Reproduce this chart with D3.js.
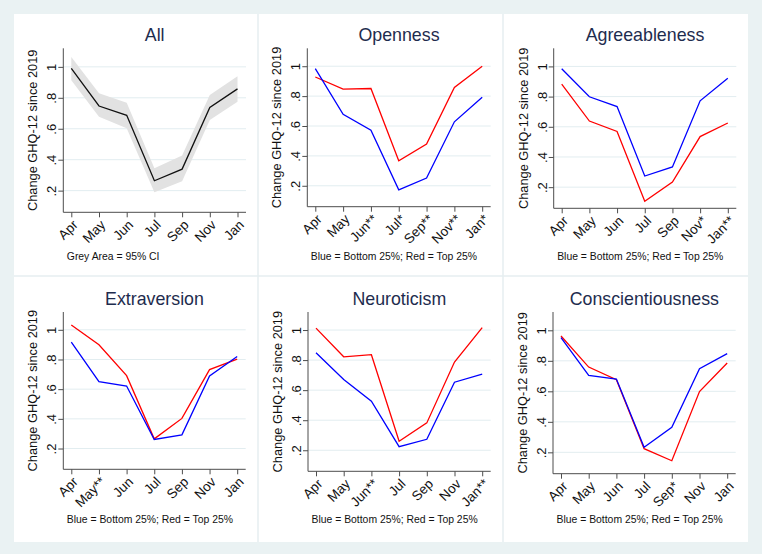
<!DOCTYPE html>
<html lang="en">
<head>
<meta charset="UTF-8">
<title>Change GHQ-12 since 2019 by personality</title>
<script src="https://cdn.jsdelivr.net/npm/d3@7"></script>
<style>
    html, body { margin: 0; padding: 0; background: #eaf2f3; }
    svg { display: block; font-family: "Liberation Sans", Arial, sans-serif; }
</style>
</head>
<body>
<svg id="chart" width="762" height="554"></svg>
<script>
    // waves (x categories)
    const months = ["Apr", "May", "Jun", "Jul", "Sep", "Nov", "Jan"];
    const yTicks = [0.2, 0.4, 0.6, 0.8, 1];

    // All respondents, mean + 95% CI
    const allMean = [0.99, 0.747, 0.687, 0.264, 0.339, 0.738, 0.858];
    const allLow  = [0.914, 0.678, 0.603, 0.19, 0.26, 0.657, 0.775];
    const allHigh = [1.064, 0.83, 0.768, 0.345, 0.427, 0.818, 0.94];

    // bottom 25% (blue) / top 25% (red) of each trait
    const openBlue  = [0.984, 0.678, 0.572, 0.173, 0.252, 0.628, 0.793];
    const openRed   = [0.928, 0.847, 0.851, 0.367, 0.479, 0.858, 1.0];
    const agreeBlue = [0.984, 0.799, 0.734, 0.274, 0.334, 0.772, 0.922];
    const agreeRed  = [0.882, 0.638, 0.569, 0.106, 0.234, 0.535, 0.625];
    const extraBlue = [0.917, 0.651, 0.621, 0.261, 0.292, 0.689, 0.82];
    const extraRed  = [1.032, 0.899, 0.691, 0.265, 0.403, 0.732, 0.802];
    const neuroBlue = [0.849, 0.671, 0.527, 0.224, 0.273, 0.653, 0.707];
    const neuroRed  = [1.013, 0.822, 0.836, 0.26, 0.382, 0.787, 1.016];
    const consBlue  = [0.952, 0.704, 0.68, 0.233, 0.364, 0.748, 0.847];
    const consRed   = [0.963, 0.759, 0.676, 0.224, 0.145, 0.598, 0.786];

    // tick labels (stars = significance)
    const allTicks   = ["Apr", "May", "Jun", "Jul", "Sep", "Nov", "Jan"];
    const openTicks  = ["Apr", "May", "Jun**", "Jul*", "Sep**", "Nov**", "Jan*"];
    const agreeTicks = ["Apr", "May", "Jun", "Jul", "Sep", "Nov*", "Jan**"];
    const extraTicks = ["Apr", "May**", "Jun", "Jul", "Sep", "Nov", "Jan"];
    const neuroTicks = ["Apr", "May", "Jun**", "Jul", "Sep", "Nov", "Jan**"];
    const consTicks  = ["Apr", "May", "Jun", "Jul", "Sep*", "Nov", "Jan"];

    const noteGroups = "Blue = Bottom 25%; Red = Top 25%";

    const panels = [
        { title: "All", ticks: allTicks, note: "Grey Area = 95% CI", mean: allMean, low: allLow, high: allHigh,
          box: { left: 63.3, right: 246, top: 48.3, bottom: 212.3 }, titleY: 41, noteY: 260 },
        { title: "Openness", ticks: openTicks, note: noteGroups, blue: openBlue, red: openRed,
          box: { left: 307.3, right: 490.7, top: 48.3, bottom: 206.7 }, titleY: 41, noteY: 260 },
        { title: "Agreeableness", ticks: agreeTicks, note: noteGroups, blue: agreeBlue, red: agreeRed,
          box: { left: 553.7, right: 736.3, top: 48.3, bottom: 208.3 }, titleY: 41, noteY: 260 },
        { title: "Extraversion", ticks: extraTicks, note: noteGroups, blue: extraBlue, red: extraRed,
          box: { left: 63.3, right: 245.7, top: 312, bottom: 469.3 }, titleY: 305, noteY: 523 },
        { title: "Neuroticism", ticks: neuroTicks, note: noteGroups, blue: neuroBlue, red: neuroRed,
          box: { left: 308, right: 490.7, top: 312, bottom: 471.3 }, titleY: 305, noteY: 523 },
        { title: "Conscientiousness", ticks: consTicks, note: noteGroups, blue: consBlue, red: consRed,
          box: { left: 553, right: 735.7, top: 312, bottom: 473.7 }, titleY: 305, noteY: 523 }
    ];

    const svg = d3.select("#chart");

    // white graph region with thin separators between panels
    svg.append("rect").attr("x", 14).attr("y", 14).attr("width", 734).attr("height", 528).attr("fill", "#fff");
    [258, 503].forEach(x => svg.append("line").attr("x1", x).attr("x2", x).attr("y1", 14).attr("y2", 542)
        .attr("stroke", "#e6eef1").attr("stroke-width", 1.5));
    svg.append("line").attr("x1", 14).attr("x2", 748).attr("y1", 276).attr("y2", 276)
        .attr("stroke", "#e6eef1").attr("stroke-width", 1.5);

    const axisColor = "#4d4d4d";
    const font = "'Liberation Sans', Arial, sans-serif";

    panels.forEach(p => {
        const b = p.box;
        const g = svg.append("g");

        const x = d3.scalePoint().domain(months).range([b.left + 8, b.right - 8.5]);
        const y = d3.scaleLinear().domain([0.06, 1.12]).range([b.bottom, b.top]);

        // gridlines
        g.selectAll(".grid").data(yTicks).join("line")
            .attr("x1", b.left).attr("x2", b.right)
            .attr("y1", d => y(d)).attr("y2", d => y(d))
            .attr("stroke", "#e2edf0").attr("stroke-width", 1);

        // confidence band
        if (p.mean) {
            const area = d3.area()
                .x((d, i) => x(months[i]))
                .y0((d, i) => y(p.low[i]))
                .y1((d, i) => y(p.high[i]));
            g.append("path").datum(p.mean).attr("d", area).attr("fill", "#e2e2e2");
        }

        const line = d3.line().x((d, i) => x(months[i])).y(d => y(d));
        if (p.mean) {
            g.append("path").datum(p.mean).attr("d", line).attr("fill", "none")
                .attr("stroke", "#111").attr("stroke-width", 1.3);
        } else {
            g.append("path").datum(p.red).attr("d", line).attr("fill", "none")
                .attr("stroke", "#ff0000").attr("stroke-width", 1.3);
            g.append("path").datum(p.blue).attr("d", line).attr("fill", "none")
                .attr("stroke", "#0000ff").attr("stroke-width", 1.3);
        }

        // y axis
        const yAxis = g.append("g").attr("transform", `translate(${b.left},0)`)
            .call(d3.axisLeft(y).tickValues(yTicks).tickSize(5).tickSizeOuter(0)
                .tickFormat(d => d === 1 ? "1" : d3.format(".1f")(d).replace("0.", ".")));
        yAxis.select(".domain").remove();
        yAxis.attr("font-size", null).attr("font-family", null);
        yAxis.selectAll("line").attr("stroke", axisColor);
        yAxis.selectAll("text")
            .attr("x", 0).attr("y", -7).attr("dy", 0)
            .attr("transform", "rotate(-90)")
            .attr("text-anchor", "middle")
            .attr("fill", "#111")
            .style("font-size", "13px")
            .style("font-family", font);

        // x axis
        const xAxis = g.append("g").attr("transform", `translate(0,${b.bottom})`)
            .call(d3.axisBottom(x).tickSize(5).tickSizeOuter(0).tickFormat((d, i) => p.ticks[i]));
        xAxis.select(".domain").remove();
        xAxis.attr("font-size", null).attr("font-family", null);
        xAxis.selectAll("line").attr("stroke", axisColor);
        xAxis.selectAll("text")
            .attr("x", 0).attr("y", 0).attr("dy", "0.35em")
            .attr("transform", "translate(3.5,10) rotate(-45)")
            .attr("text-anchor", "end")
            .attr("fill", "#111")
            .style("font-size", "13.5px")
            .style("font-family", font);

        // axis lines meeting at the corner
        g.append("path")
            .attr("d", `M${b.left},${b.top}V${b.bottom}H${b.right}`)
            .attr("fill", "none").attr("stroke", axisColor).attr("stroke-width", 1);

        // y label
        g.append("text")
            .attr("transform", `translate(${b.left - 26},${(b.top + b.bottom) / 2}) rotate(-90)`)
            .attr("text-anchor", "middle")
            .attr("font-size", 12.8).attr("fill", "#111")
            .text("Change GHQ-12 since 2019");

        // title
        g.append("text")
            .attr("x", (b.left + b.right) / 2).attr("y", p.titleY)
            .attr("text-anchor", "middle")
            .attr("font-size", 17.8).attr("fill", "#1e2c4e")
            .text(p.title);

        // note
        g.append("text")
            .attr("x", b.left + 3.5).attr("y", p.noteY)
            .attr("font-size", 10.4).attr("fill", "#111")
            .text(p.note);
    });
</script>
</body>
</html>
